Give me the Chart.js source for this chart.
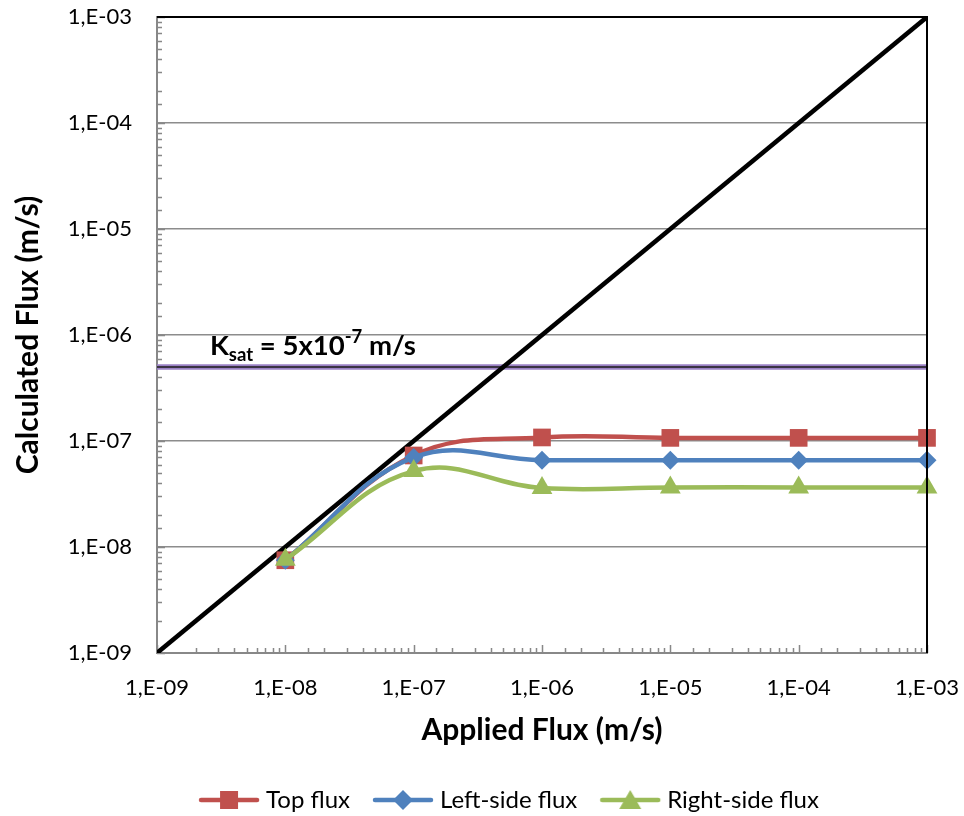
<!DOCTYPE html>
<html>
<head>
<meta charset="utf-8">
<script src="https://cdn.jsdelivr.net/npm/chart.js@4.4.1/dist/chart.umd.min.js"></script>
<style>
html,body{margin:0;padding:0;background:#fff;}
#wrap{width:964px;height:816px;position:relative;}
</style>
</head>
<body>
<div id="wrap"><canvas id="c" width="964" height="816"></canvas></div>
<script>
// ---- data ----
const appliedFlux = [1e-8, 1e-7, 1e-6, 1e-5, 1e-4, 1e-3];
const topFlux   = [7.5e-9, 7.3e-8, 1.08e-7, 1.07e-7, 1.07e-7, 1.07e-7];
const leftFlux  = [7.5e-9, 7.0e-8, 6.6e-8, 6.6e-8, 6.6e-8, 6.6e-8];
const rightFlux = [7.6e-9, 5.2e-8, 3.6e-8, 3.65e-8, 3.65e-8, 3.65e-8];
const identityX = [1e-9, 1e-3];
const identityY = [1e-9, 1e-3];
const ksatValue = 5e-7;
const axisMin = 1e-9;
const axisMax = 1e-3;
const seriesNames = ['Top flux', 'Left-side flux', 'Right-side flux'];

const FONT = 'Lato';
const toPts = (xs, ys) => xs.map((x, i) => ({x: x, y: ys[i]}));
const isMajor = v => Math.abs(Math.log10(v) - Math.round(Math.log10(v))) < 1e-6;
const fmt = v => {
  const e = Math.round(Math.log10(v));
  const s = Math.abs(e) < 10 ? '0' + Math.abs(e) : '' + Math.abs(e);
  return '1,E' + (e < 0 ? '-' : '+') + s;
};

function legendIcon(color, style) {
  const c = document.createElement('canvas');
  c.width = 64; c.height = 24;
  const g = c.getContext('2d');
  g.strokeStyle = color; g.lineWidth = 4.5; g.lineCap = 'round';
  g.beginPath(); g.moveTo(4, 12); g.lineTo(60, 12); g.stroke();
  g.fillStyle = color;
  g.beginPath();
  if (style === 'rect') { g.rect(23, 3, 18, 18); }
  else if (style === 'rectRot') { g.moveTo(32, 2); g.lineTo(42, 12); g.lineTo(32, 22); g.lineTo(22, 12); g.closePath(); }
  else { g.moveTo(32, 2); g.lineTo(43, 21); g.lineTo(21, 21); g.closePath(); }
  g.fill();
  return c;
}

const colors = ['#C0504D', '#4F81BD', '#9BBB59'];
const styles = ['rect', 'rectRot', 'triangle'];
const icons = colors.map((c, i) => legendIcon(c, styles[i]));

const serie = (label, ys, color, style, radius, order) => ({
  label: label,
  data: toPts(appliedFlux, ys),
  borderColor: color,
  backgroundColor: color,
  borderWidth: 4.5,
  pointStyle: style,
  pointRadius: radius,
  pointBorderWidth: 0,
  pointBackgroundColor: color,
  tension: 0.4,
  clip: false,
  order: order
});

const zeroPad = s => { s.paddingLeft = 0; s.paddingRight = 0; s.paddingTop = 0; s.paddingBottom = 0; };

const innerTicks = {
  id: 'innerTicks',
  afterLayout(chart) {
    // Excel places the legend a bit right of the canvas centre
    const lg = chart.legend;
    if (lg) { lg.left += 48; lg.right += 48; }
  },
  beforeDatasetsDraw(chart) {
    const {ctx, chartArea: a, scales: {x, y}} = chart;
    ctx.save();
    ctx.strokeStyle = '#888888';
    ctx.lineWidth = 1.5;
    ctx.beginPath();
    x.ticks.forEach(t => {
      const px = Math.round(x.getPixelForValue(t.value)) + 0.5;
      const len = isMajor(t.value) ? 8 : 5;
      ctx.moveTo(px, a.bottom); ctx.lineTo(px, a.bottom - len);
    });
    y.ticks.forEach(t => {
      const py = Math.round(y.getPixelForValue(t.value)) + 0.5;
      const len = isMajor(t.value) ? 8 : 5;
      ctx.moveTo(a.left, py); ctx.lineTo(a.left + len, py);
    });
    ctx.stroke();
    ctx.restore();
  },
  afterDraw(chart) {
    const {ctx, chartArea: a, scales: {x, y}} = chart;
    ctx.save();
    // top and right border
    ctx.strokeStyle = '#000';
    ctx.lineWidth = 2;
    ctx.beginPath();
    ctx.moveTo(a.left, a.top); ctx.lineTo(a.right, a.top); ctx.lineTo(a.right, a.bottom);
    ctx.stroke();
    // Ksat label
    const baseY = y.getPixelForValue(ksatValue) - 12;
    let px = a.left + 53;
    ctx.fillStyle = '#000';
    ctx.textBaseline = 'alphabetic';
    const big = 'bold 27.5px ' + FONT, small = 'bold 18.5px ' + FONT;
    const put = (txt, font, dy) => { ctx.font = font; ctx.fillText(txt, px, baseY + dy); px += ctx.measureText(txt).width; };
    put('K', big, 0);
    put('sat', small, 6);
    put(' = 5x10', big, 0);
    put('-7', small, -12);
    put(' m/s', big, 0);
    ctx.restore();
  }
};

new Chart(document.getElementById('c'), {
  type: 'line',
  data: {
    datasets: [
      serie(seriesNames[0], topFlux, colors[0], 'rect', 12.5, 3),
      serie(seriesNames[1], leftFlux, colors[1], 'rectRot', 9.5, 2),
      serie(seriesNames[2], rightFlux, colors[2], 'triangle', 12, 1),
      {
        label: '1:1', data: toPts(identityX, identityY),
        borderColor: '#000', borderWidth: 4.5, pointRadius: 0, order: 4
      },
      {
        label: 'Ksat', data: toPts(identityX, [ksatValue, ksatValue]),
        borderColor: '#1a1a1a', borderWidth: 1.5, pointRadius: 0, order: 5
      },
      {
        label: 'KsatBack', data: toPts(identityX, [ksatValue, ksatValue]),
        borderColor: '#9A80C4', borderWidth: 5.5, pointRadius: 0, order: 6
      }
    ]
  },
  options: {
    responsive: false,
    animation: false,
    layout: {padding: {left: 0, right: 37, top: 17, bottom: -6}},
    plugins: {
      tooltip: {enabled: false},
      legend: {
        position: 'bottom',
        labels: {
          generateLabels: chart => seriesNames.map((n, i) => ({
            text: n, pointStyle: icons[i], fillStyle: colors[i], strokeStyle: colors[i],
            lineWidth: 0, hidden: false, datasetIndex: i, fontColor: '#000'
          })),
          usePointStyle: true,
          pointStyleWidth: 50,
          boxHeight: 24,
          padding: 28,
          color: '#000',
          font: {family: FONT, size: 24}
        }
      }
    },
    scales: {
      x: {
        type: 'logarithmic',
        min: axisMin, max: axisMax,
        afterFit: s => { s.height = 107; zeroPad(s); },
        border: {color: '#888888', width: 2},
        grid: {display: true, drawTicks: false, color: 'rgba(0,0,0,0)'},
        ticks: {
          autoSkip: false, maxRotation: 0, padding: 22,
          color: '#000', font: {family: FONT, size: 22},
          callback: v => isMajor(v) ? fmt(v) : ''
        },
        title: {display: true, text: 'Applied Flux (m/s)', color: '#000',
          font: {family: FONT, size: 30, weight: 'bold'}, padding: {top: 10, bottom: 12}}
      },
      y: {
        type: 'logarithmic',
        min: axisMin, max: axisMax,
        afterFit: s => { s.width = 157; zeroPad(s); },
        border: {color: '#888888', width: 2},
        grid: {drawTicks: false, lineWidth: 1.5,
          color: c => (c.tick && isMajor(c.tick.value)) ? '#8c8c8c' : 'rgba(0,0,0,0)'},
        ticks: {
          autoSkip: false, padding: 25,
          color: '#000', font: {family: FONT, size: 22},
          callback: v => isMajor(v) ? fmt(v) : ''
        },
        title: {display: true, text: 'Calculated Flux (m/s)', color: '#000',
          font: {family: FONT, size: 30, weight: 'bold'}, padding: {top: 10, bottom: 4}}
      }
    }
  },
  plugins: [innerTicks]
});
</script>
</body>
</html>
